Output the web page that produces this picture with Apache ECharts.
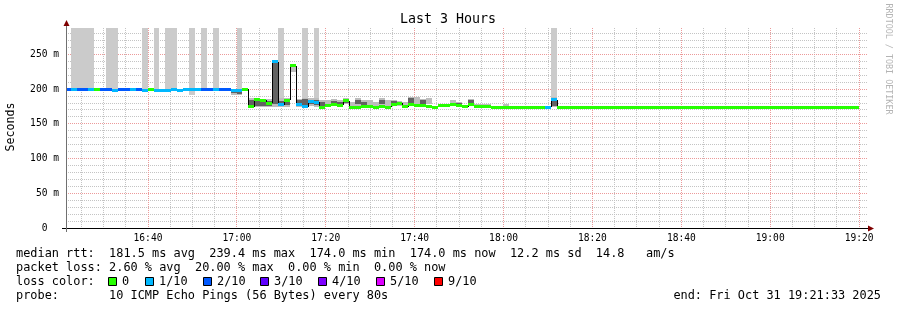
<!DOCTYPE html>
<html>
<head>
<meta charset="utf-8">
<title>Last 3 Hours</title>
<script src="https://cdn.jsdelivr.net/npm/echarts@6/dist/echarts.min.js"></script>
<style>
html,body{margin:0;padding:0;background:#ffffff;}
#chart{width:897px;height:310px;}
</style>
</head>
<body>
<div id="chart"></div>
<script>
const _ = null;

// ---- axis / time setup ----
const graphStart = '16:21:33';
const graphSpanSeconds = 10800;
const xTickLabels = ['16:40', '17:00', '17:20', '17:40', '18:00', '18:20', '18:40', '19:00', '19:20'];
const yTickValues = [0, 50, 100, 150, 200, 250];
const yMaxMs = 288;
const stepSeconds = 80;
const firstStepStart = -18; // seconds after graph start (first, partial step)

// ---- per-step data (one entry per 80 s step) ----
const medianMs = [
  199.5,199.5,199.5,199.5,199.5,199.5,199.5,199.5,197.5,199.5,
  199.5,199.5,199.5,197.5,199.5,197.5,197.5,197.5,199.5,197.5,
  199.5,199.5,199.5,199.5,199.5,199.5,199.5,199.5,197.5,197.5,
  199.5,174.5,184.5,184,180,239.4,177.5,184,233.5,177.5,
  174.5,182.5,181,174,176,177.5,176.5,183,174,174,
  175,175,174,175,174,177.5,180,174.5,178.5,176,
  176,174.5,174,176,176,177.5,176,174.5,177.5,174.5,
  174.5,174.5,174,174,174,174,174,174,174,174,
  174,174,184.5,174,174,174,174,174,174,174,
  174,174,174,174,174,174,174,174,174,174,
  174,174,174,174,174,174,174,174,174,174,
  174,174,174,174,174,174,174,174,174,174,
  174,174,174,174,174,174,174,174,174,174,
  174,174,174,174
];
const lostPings = [
  2,1,2,2,1,0,2,2,1,2,
  2,1,2,1,0,1,1,1,1,1,
  1,1,1,2,2,1,2,2,1,1,
  0,0,0,0,0,1,1,0,0,1,
  1,1,1,0,0,0,0,0,0,0,
  0,0,0,0,0,0,0,0,0,0,
  0,0,0,0,0,0,0,0,0,0,
  0,0,0,0,0,0,0,0,0,0,
  0,1,1,0,0,0,0,0,0,0,
  0,0,0,0,0,0,0,0,0,0,
  0,0,0,0,0,0,0,0,0,0,
  0,0,0,0,0,0,0,0,0,0,
  0,0,0,0,0,0,0,0,0,0,
  0,0,0,0
];
// bottom of the smoke that runs off the top of the graph
const overflowFloor = [
  _,199,199,199,199,_,_,199,199,_,
  _,_,_,199,_,199,_,198,198,_,
  _,191,_,199,_,199,_,_,_,193,
  _,_,_,_,_,_,186,_,_,_,
  186,_,186,_,_,_,_,_,_,_,
  _,_,_,_,_,_,_,_,_,_,
  _,_,_,_,_,_,_,_,_,_,
  _,_,_,_,_,_,_,_,_,_,
  _,_,187,_,_,_,_,_,_,_,
  _,_,_,_,_,_,_,_,_,_,
  _,_,_,_,_,_,_,_,_,_,
  _,_,_,_,_,_,_,_,_,_,
  _,_,_,_,_,_,_,_,_,_,
  _,_,_,_
];
const smokeLo = [
  _,_,_,_,_,_,_,_,_,_,
  _,_,_,_,_,_,_,_,_,_,
  _,_,_,_,_,_,_,_,192,191,
  _,174,174,174,174,174,174,174,224,174,
  176,176,174,174,175,176,176,178,174,176,
  176,176,175,176,175,176,176,176,176,177,
  175,178,_,176,_,177,176,_,177,175,
  175,175,_,_,175,_,_,_,_,_,
  _,_,174,_,_,_,_,_,_,_,
  _,_,_,_,_,_,_,_,_,_,
  _,_,_,_,_,_,_,_,_,_,
  _,_,_,_,_,_,_,_,_,_,
  _,_,_,_,_,_,_,_,_,_,
  _,_,_,_
];
const smokeHi = [
  _,_,_,_,_,_,_,_,_,_,
  _,_,_,_,_,_,_,_,_,_,
  _,_,_,_,_,_,_,_,199,199,
  _,187,187,186,186,240,187,187,234,186,
  187,187,187,184,184,186,184,187,182,187,
  184,184,182,187,184,184,183,182,188,188,
  186,187,_,179,_,184,181,_,186,179,
  179,179,_,_,178,_,_,_,_,_,
  _,_,188,_,_,_,_,_,_,_,
  _,_,_,_,_,_,_,_,_,_,
  _,_,_,_,_,_,_,_,_,_,
  _,_,_,_,_,_,_,_,_,_,
  _,_,_,_,_,_,_,_,_,_,
  _,_,_,_
];
const coreLo = [
  _,_,_,_,_,_,_,_,_,_,
  _,_,_,_,_,_,_,_,_,_,
  _,_,_,_,_,_,_,_,194,193,
  _,176,176,176,176,178,175,177,_,175,
  177,178,177,176,_,178,177,180,_,178,
  177,_,_,178,_,178,177,_,180,_,
  176,_,_,_,_,_,177,_,179,_,
  _,_,_,_,_,_,_,_,_,_,
  _,_,175,_,_,_,_,_,_,_,
  _,_,_,_,_,_,_,_,_,_,
  _,_,_,_,_,_,_,_,_,_,
  _,_,_,_,_,_,_,_,_,_,
  _,_,_,_,_,_,_,_,_,_,
  _,_,_,_
];
const coreHi = [
  _,_,_,_,_,_,_,_,_,_,
  _,_,_,_,_,_,_,_,_,_,
  _,_,_,_,_,_,_,_,198,197,
  _,184,186,184,183,238,183,185,_,184,
  186,185,185,182,_,183,182,186,_,185,
  182,_,_,184,_,183,182,_,187,_,
  185,_,_,_,_,_,180,_,184,_,
  _,_,_,_,_,_,_,_,_,_,
  _,_,184,_,_,_,_,_,_,_,
  _,_,_,_,_,_,_,_,_,_,
  _,_,_,_,_,_,_,_,_,_,
  _,_,_,_,_,_,_,_,_,_,
  _,_,_,_,_,_,_,_,_,_,
  _,_,_,_
];

// ---- legend content ----
const lossLevels = [0, 1, 2, 3, 4, 5, 9];
const lossLabels = ['0', '1/10', '2/10', '3/10', '4/10', '5/10', '9/10'];
const lossColors = ['#26ff00', '#00b8ff', '#0059ff', '#5e00ff', '#7e00ff', '#dd00ff', '#ff0000'];
const statLines = [
  'median rtt:  181.5 ms avg  239.4 ms max  174.0 ms min  174.0 ms now  12.2 ms sd  14.8   am/s',
  'packet loss: 2.60 % avg  20.00 % max  0.00 % min  0.00 % now'
];
const lossTitle = 'loss color:';
const probeLine = 'probe:       10 ICMP Echo Pings (56 Bytes) every 80s';
const endLine = 'end: Fri Oct 31 19:21:33 2025';
const titleText = 'Last 3 Hours';
const yAxisTitle = 'Seconds';
const watermark = 'RRDTOOL / TOBI OETIKER';

// ---- helpers ----
const MONO = '"DejaVu Sans Mono", monospace';
function toSec(s) { const p = s.split(':').map(Number); return p[0] * 3600 + p[1] * 60 + (p[2] || 0); }
const startSec = toSec(graphStart);
const xTickValues = xTickLabels.map(l => toSec(l + ':00') - startSec);
function fmtClock(v) {
  const t = startSec + Math.round(v);
  const h = Math.floor(t / 3600) % 24, m = Math.floor((t % 3600) / 60);
  return String(h).padStart(2, '0') + ':' + String(m).padStart(2, '0');
}
function lossColor(n) {
  let idx = 0;
  for (let k = 0; k < lossLevels.length; k++) if (n >= lossLevels[k]) idx = k;
  return lossColors[idx];
}

// grid line positions (5-minute and 10 ms minor, 20-minute and 50 ms major)
const vGrid = [];
for (let m = 16 * 60 + 25; m <= 19 * 60 + 25; m += 5) {
  const rel = m * 60 - startSec;
  if (rel > 0 && rel < graphSpanSeconds) vGrid.push([rel, m % 20 === 0]);
}
const hGrid = [];
for (let v = 10; v < yMaxMs; v += 10) hGrid.push([v, v % 50 === 0]);

function stepEdges(api, i) {
  const t0 = firstStepStart + stepSeconds * i;
  const t1 = t0 + stepSeconds;
  return [Math.round(api.coord([t0, 0])[0]), Math.round(api.coord([t1, 0])[0])];
}
function yPix(api, v) { return api.coord([0, v])[1]; }

function renderGrid(params, api) {
  const cs = params.coordSys;
  const kids = [];
  const MINOR = '#c4c4c4', MAJOR = '#ec9a9a';
  const lines = [];
  vGrid.forEach(([t, major]) => {
    const x = Math.floor(api.coord([t, 0])[0]) + 0.5;
    lines.push({ major, shape: { x1: x, y1: cs.y, x2: x, y2: cs.y + cs.height } });
  });
  hGrid.forEach(([v, major]) => {
    const y = Math.floor(yPix(api, v)) + 0.5;
    lines.push({ major, shape: { x1: cs.x, y1: y, x2: cs.x + cs.width + 2, y2: y } });
  });
  lines.filter(l => !l.major).concat(lines.filter(l => l.major)).forEach(l => {
    kids.push({ type: 'line', shape: l.shape, style: { stroke: l.major ? MAJOR : MINOR, lineWidth: 1, lineDash: [1, 1] } });
  });
  return { type: 'group', children: kids };
}

function renderSmoke(params, api) {
  const i = params.dataIndex;
  const [xa, xb] = stepEdges(api, i);
  const kids = [];
  function band(lo, hi, fill) {
    const yTop = Math.round(yPix(api, hi)), yBot = Math.round(yPix(api, lo));
    kids.push({ type: 'rect', shape: { x: xa, y: yTop, width: xb - xa, height: Math.max(1, yBot - yTop) }, style: { fill } });
  }
  if (overflowFloor[i] != null) band(overflowFloor[i], yMaxMs + 2, '#cbcbcb');
  if (smokeLo[i] != null) band(smokeLo[i], smokeHi[i], '#bdbdbd');
  if (coreLo[i] != null) band(coreLo[i], coreHi[i], '#626262');
  return { type: 'group', children: kids };
}

function renderMedian(params, api) {
  const i = params.dataIndex;
  const [xa, xb] = stepEdges(api, i);
  const y = yPix(api, medianMs[i]);
  const kids = [];
  if (i > 0) {
    const yPrev = yPix(api, medianMs[i - 1]);
    if (Math.abs(yPrev - y) >= 1) {
      kids.push({ type: 'line', shape: { x1: xa + 0.5, y1: Math.round(yPrev), x2: xa + 0.5, y2: Math.round(y) }, style: { stroke: '#000', lineWidth: 1 } });
    }
  }
  kids.push({ type: 'rect', shape: { x: xa, y: Math.round(y - 1.5), width: xb - xa, height: 3 }, style: { fill: lossColor(lostPings[i]) } });
  return { type: 'group', children: kids };
}

const stepData = medianMs.map((m, i) => [firstStepStart + stepSeconds * i + stepSeconds / 2, m]);

// ---- legend graphics ----
const G = { left: 66, top: 28, width: 800, height: 200 };
const legendX = 16;
const lineY = [254, 268, 282, 296];
const legendFont = 11.9;
const graphics = [];
function txt(text, x, y, opts) {
  graphics.push(Object.assign({
    type: 'text', x, y, silent: true, z: 100,
    style: Object.assign({ text, fill: '#000', fontFamily: MONO, fontSize: legendFont, textAlign: 'left', textVerticalAlign: 'middle', verticalAlign: 'middle' }, (opts && opts.style) || {})
  }, (opts && opts.el) || {}));
}
txt(titleText, 448, 20, { style: { fontSize: 13.3, textAlign: 'center' } });
txt(yAxisTitle, 11, 127, { style: { fontSize: 11.6, textAlign: 'center' }, el: { rotation: Math.PI / 2 } });
txt(watermark, 888, 59, { style: { fontSize: 8.4, textAlign: 'center', fill: '#b4b4b4' }, el: { rotation: -Math.PI / 2 } });
txt(statLines[0], legendX, lineY[0]);
txt(statLines[1], legendX, lineY[1]);
txt(lossTitle, legendX, lineY[2]);
txt(probeLine, legendX, lineY[3]);
txt(endLine, 881, lineY[3], { style: { textAlign: 'right' } });
const boxX = [108.5, 145.5, 203.5, 260.5, 318.5, 376.5, 434.5];
lossLabels.forEach((lab, k) => {
  graphics.push({ type: 'rect', z: 100, silent: true, shape: { x: boxX[k], y: lineY[2] - 4.5, width: 8, height: 8 }, style: { fill: lossColors[k], stroke: '#000', lineWidth: 1 } });
  txt(lab, boxX[k] + 13.5, lineY[2]);
});
// axes with arrows
const axisY = G.top + G.height + 0.5;
const axisX = G.left + 0.5;
graphics.push({ type: 'line', z: 90, silent: true, shape: { x1: 62, y1: axisY, x2: G.left + G.width + 2, y2: axisY }, style: { stroke: '#000', lineWidth: 1 } });
graphics.push({ type: 'line', z: 90, silent: true, shape: { x1: axisX, y1: G.top + G.height + 4, x2: axisX, y2: G.top - 3 }, style: { stroke: '#707070', lineWidth: 1 } });
graphics.push({ type: 'polygon', z: 91, silent: true, shape: { points: [[axisX - 3, G.top - 2], [axisX + 3, G.top - 2], [axisX, G.top - 8]] }, style: { fill: '#7f0000' } });
graphics.push({ type: 'polygon', z: 91, silent: true, shape: { points: [[G.left + G.width + 2, axisY - 3], [G.left + G.width + 2, axisY + 3], [G.left + G.width + 8, axisY]] }, style: { fill: '#7f0000' } });

const chart = echarts.init(document.getElementById('chart'), null, { renderer: 'canvas' });
chart.setOption({
  backgroundColor: '#ffffff',
  animation: false,
  grid: { left: G.left, top: G.top, width: G.width, height: G.height, containLabel: false },
  xAxis: {
    type: 'value', min: 0, max: graphSpanSeconds,
    axisLine: { show: false }, axisTick: { show: false }, splitLine: { show: false },
    axisLabel: { customValues: xTickValues, formatter: fmtClock, fontFamily: MONO, fontSize: 9.6, color: '#000', margin: 5, hideOverlap: false }
  },
  yAxis: {
    type: 'value', min: 0, max: yMaxMs,
    axisLine: { show: false }, axisTick: { show: false }, splitLine: { show: false },
    axisLabel: { customValues: yTickValues, formatter: v => (v === 0 ? '0  ' : v + ' m'), fontFamily: MONO, fontSize: 9.6, color: '#000', margin: 7 }
  },
  series: [
    { type: 'custom', name: 'grid', z: 1, silent: true, data: [[0, 0]], renderItem: renderGrid },
    { type: 'custom', name: 'smoke', z: 2, silent: true, clip: true, data: stepData, renderItem: renderSmoke },
    { type: 'custom', name: 'median', z: 3, silent: true, clip: true, data: stepData, renderItem: renderMedian }
  ],
  graphic: { elements: graphics }
});
</script>
</body>
</html>
